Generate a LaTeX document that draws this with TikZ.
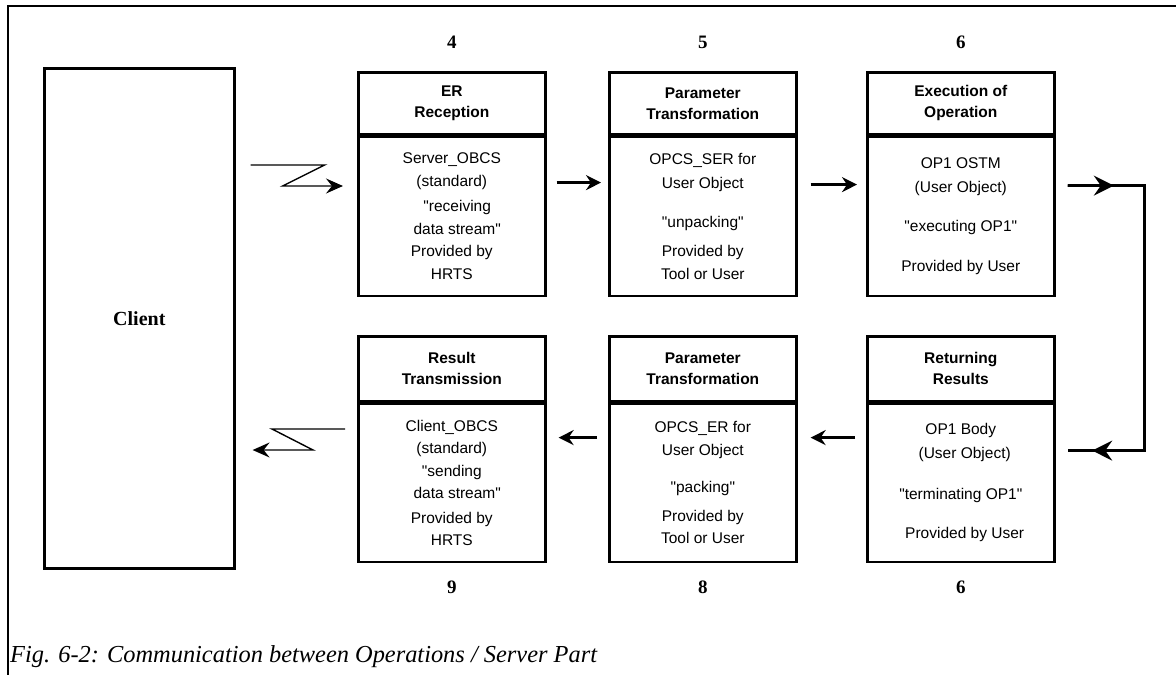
\documentclass[tikz,border=0pt]{standalone}
\usepackage{fontspec}
\setmainfont{Liberation Serif}
\setsansfont{Liberation Sans}
\usetikzlibrary{arrows.meta,calc}
\newcommand{\dq}{\textquotedbl}

\begin{document}
\begin{tikzpicture}[x=1pt,y=-1pt,
  hdr/.style={draw,line width=2.6pt,minimum width=187pt,inner sep=0pt,
    align=center,font=\sffamily\bfseries\fontsize{15.5}{21}\selectfont},
  bodybox/.style={draw,line width=2.6pt,minimum width=187pt,inner sep=0pt,
    align=center,font=\sffamily\fontsize{15.5}{22.5}\selectfont},
  stepnum/.style={font=\bfseries\fontsize{19}{22}\selectfont},
  arr/.style={line width=2.4pt,-{Stealth[length=15pt,width=15pt,inset=5pt]}},
  zz/.style={line width=1.4pt,-{Stealth[length=17pt,width=15pt,inset=6pt]}},
  loop/.style={line width=2.4pt},
  midhead/.style={line width=2.4pt,-{Stealth[length=20pt,width=20pt,inset=7pt]}}]

\useasboundingbox (0,0) rectangle (1176,675);

% outer frame
\draw[line width=2pt] (1176,6) -- (8,6) -- (8,675);

% client
\node[draw,line width=2.6pt,minimum width=190pt,minimum height=500pt,
  anchor=north west,font=\bfseries\fontsize{20}{24}\selectfont] (client) at (43,67) {Client};

% upper row
\node[hdr,minimum height=62pt,anchor=north west] (er-h) at (357,71) {ER\\Reception};
\node[bodybox,minimum height=159pt,anchor=north] (er-b) at (er-h.south)
  {Server\_OBCS\\(standard)\\[3pt]\hspace*{0.7em}\dq receiving\\\hspace*{0.7em}data stream\dq\\Provided by\\HRTS};

\node[hdr,minimum height=62pt,anchor=north west] (pt-h) at (608,71) {Parameter\\Transformation};
\node[bodybox,minimum height=159pt,anchor=north] (pt-b) at (pt-h.south)
  {OPCS\_SER for\\[1.5pt]User Object\\[16.5pt]\dq unpacking\dq\\[6.5pt]Provided by\\Tool or User};

\node[hdr,minimum height=62pt,anchor=north west] (ex-h) at (866,71) {Execution of\\Operation};
\node[bodybox,minimum height=159pt,anchor=north] (ex-b) at (ex-h.south)
  {OP1 OSTM\\[1.5pt](User Object)\\[16.5pt]\dq executing OP1\dq\\[17.5pt]Provided by User};

% lower row
\node[hdr,minimum height=65pt,anchor=north west] (rt-h) at (357,335) {Result\\Transmission};
\node[bodybox,minimum height=158pt,anchor=north] (rt-b) at (rt-h.south)
  {Client\_OBCS\\(standard)\\\dq sending\\\hspace*{0.7em}data stream\dq\\[2pt]Provided by\\HRTS};

\node[hdr,minimum height=65pt,anchor=north west] (pp-h) at (608,335) {Parameter\\Transformation};
\node[bodybox,minimum height=158pt,anchor=north] (pp-b) at (pp-h.south)
  {OPCS\_ER for\\User Object\\[15pt]\dq packing\dq\\[6pt]Provided by\\Tool or User};

\node[hdr,minimum height=65pt,anchor=north west] (rr-h) at (866,335) {Returning\\Results};
\node[bodybox,minimum height=158pt,anchor=north] (rr-b) at (rr-h.south)
  {OP1 Body\\[1.5pt]\hspace*{0.5em}(User Object)\\[18pt]\dq terminating OP1\dq\\[17pt]\hspace*{0.5em}Provided by User};

% step numbers
\node[stepnum] (n4) at (er-h.north |- 0,42) {4};
\node[stepnum] (n5) at (pt-h.north |- 0,42) {5};
\node[stepnum] (n6a) at (ex-h.north |- 0,42) {6};
\node[stepnum] (n9) at (rt-b.south |- 0,587) {9};
\node[stepnum] (n8) at (pp-b.south |- 0,587) {8};
\node[stepnum] (n6b) at (rr-b.south |- 0,587) {6};

% forward flow
\draw[arr] ([shift={(10,47)}]er-b.north east) -- ([shift={(-7,47)}]pt-b.north west);
\draw[arr] ([shift={(13,49)}]pt-b.north east) -- ([shift={(-9,49)}]ex-b.north west);

% return loop on the right
\coordinate (lp1) at ([shift={(12,50)}]ex-b.north east);
\coordinate (lp2) at ([shift={(89,50)}]ex-b.north east);
\coordinate (lp3) at ([shift={(89,48)}]rr-b.north east);
\coordinate (lp4) at ([shift={(12,48)}]rr-b.north east);
\draw[loop,line join=miter] (lp1) -- (lp2) -- (lp3) -- (lp4);
\draw[midhead] (lp1) -- ($(lp1)!0.6!(lp2)$);
\draw[midhead] (lp3) -- ($(lp3)!0.68!(lp4)$);

% backward flow
\draw[arr] ([shift={(-11,35)}]rr-b.north west) -- ([shift={(13,35)}]pp-b.north east);
\draw[arr] ([shift={(-11,35)}]pp-b.north west) -- ([shift={(12,35)}]rt-b.north east);

% network links to and from the client
\draw[zz,line join=miter] ([shift={(15,98)}]client.north east) -- ++(74,0) -- ++(-42,21)
  -- ([shift={(-14,115)}]er-h.north west);
\draw[zz,line join=miter] ([shift={(-12,94)}]rt-h.north west) -- ++(-73,0) -- ++(41,21)
  -- ([shift={(17,383)}]client.north east);

% caption
\node[anchor=west,inner sep=0pt,font=\itshape\fontsize{24.4}{28}\selectfont] (cap) at (10,657)
  {Fig. 6-2: Communication between Operations / Server Part};
\end{tikzpicture}
\end{document}
